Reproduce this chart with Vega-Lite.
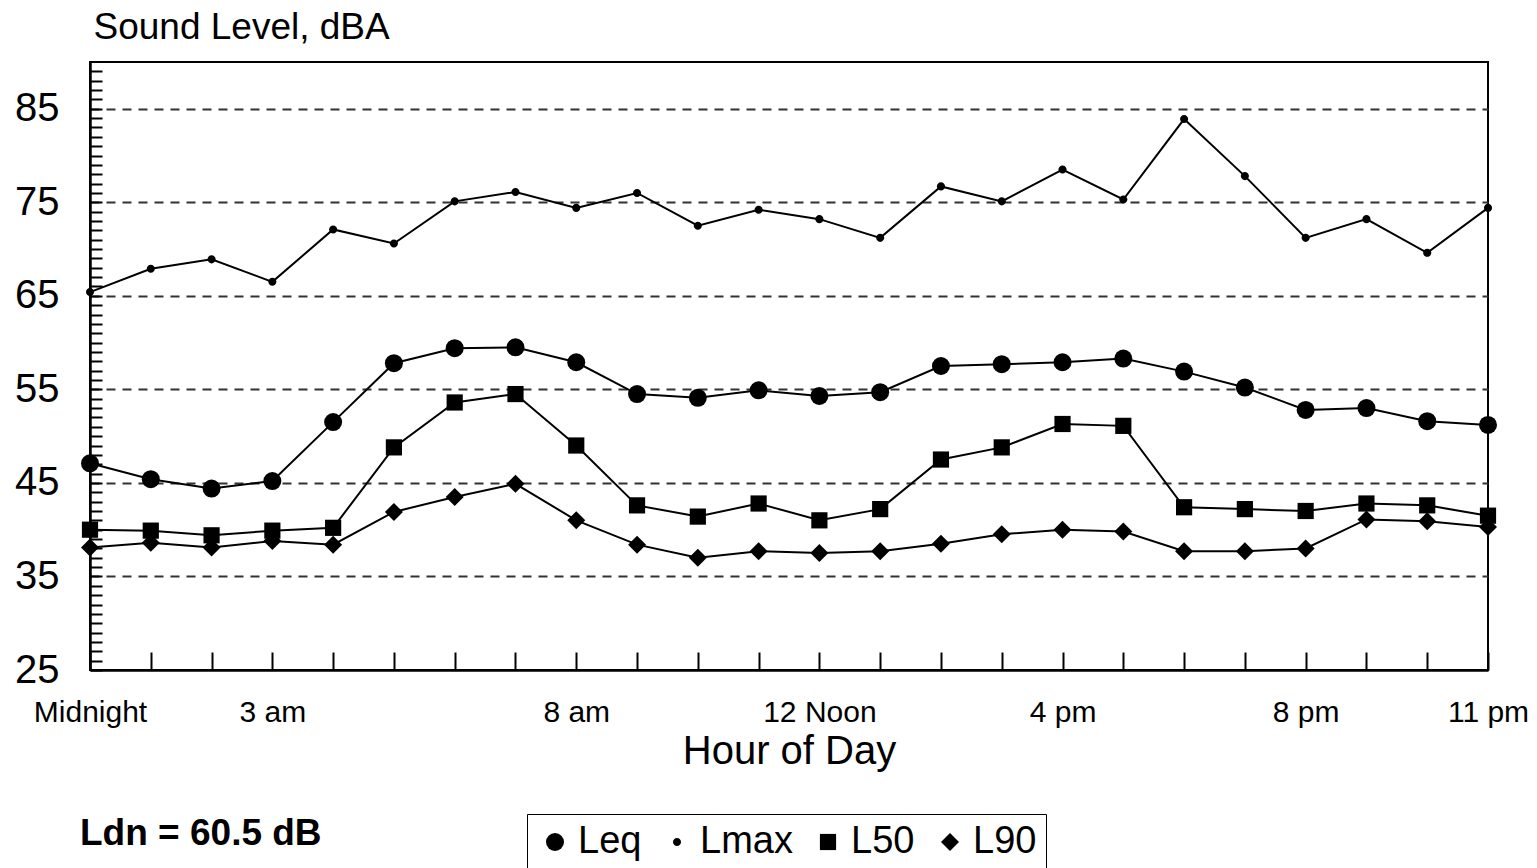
{
  "$schema": "https://vega.github.io/schema/vega-lite/v6.json",
  "width": 1398,
  "height": 608,
  "autosize": {"type": "none"},
  "padding": {"left": 90, "top": 62, "right": 49, "bottom": 198},
  "background": "white",
  "config": {
    "font": "Liberation Sans",
    "view": {"stroke": "black", "strokeWidth": 2}
  },
  "title": {
    "text": "Ldn = 60.5 dB",
    "orient": "bottom",
    "anchor": "start",
    "frame": "group",
    "fontSize": 37,
    "fontWeight": "bold",
    "color": "black",
    "dx": -10,
    "offset": -55
  },
  "datasets": {
    "levels": [
      {"hour": 0, "series": "Leq", "level": 47.1}, {"hour": 1, "series": "Leq", "level": 45.4}, {"hour": 2, "series": "Leq", "level": 44.4}, {"hour": 3, "series": "Leq", "level": 45.2},
      {"hour": 4, "series": "Leq", "level": 51.5}, {"hour": 5, "series": "Leq", "level": 57.8}, {"hour": 6, "series": "Leq", "level": 59.4}, {"hour": 7, "series": "Leq", "level": 59.5},
      {"hour": 8, "series": "Leq", "level": 57.9}, {"hour": 9, "series": "Leq", "level": 54.5}, {"hour": 10, "series": "Leq", "level": 54.1}, {"hour": 11, "series": "Leq", "level": 54.9},
      {"hour": 12, "series": "Leq", "level": 54.3}, {"hour": 13, "series": "Leq", "level": 54.7}, {"hour": 14, "series": "Leq", "level": 57.5}, {"hour": 15, "series": "Leq", "level": 57.7},
      {"hour": 16, "series": "Leq", "level": 57.9}, {"hour": 17, "series": "Leq", "level": 58.3}, {"hour": 18, "series": "Leq", "level": 56.9}, {"hour": 19, "series": "Leq", "level": 55.2},
      {"hour": 20, "series": "Leq", "level": 52.8}, {"hour": 21, "series": "Leq", "level": 53.0}, {"hour": 22, "series": "Leq", "level": 51.6}, {"hour": 23, "series": "Leq", "level": 51.2},
      {"hour": 0, "series": "Lmax", "level": 65.4}, {"hour": 1, "series": "Lmax", "level": 67.9}, {"hour": 2, "series": "Lmax", "level": 68.9}, {"hour": 3, "series": "Lmax", "level": 66.5},
      {"hour": 4, "series": "Lmax", "level": 72.1}, {"hour": 5, "series": "Lmax", "level": 70.6}, {"hour": 6, "series": "Lmax", "level": 75.1}, {"hour": 7, "series": "Lmax", "level": 76.1},
      {"hour": 8, "series": "Lmax", "level": 74.4}, {"hour": 9, "series": "Lmax", "level": 76.0}, {"hour": 10, "series": "Lmax", "level": 72.5}, {"hour": 11, "series": "Lmax", "level": 74.2},
      {"hour": 12, "series": "Lmax", "level": 73.2}, {"hour": 13, "series": "Lmax", "level": 71.2}, {"hour": 14, "series": "Lmax", "level": 76.7}, {"hour": 15, "series": "Lmax", "level": 75.1},
      {"hour": 16, "series": "Lmax", "level": 78.5}, {"hour": 17, "series": "Lmax", "level": 75.3}, {"hour": 18, "series": "Lmax", "level": 83.9}, {"hour": 19, "series": "Lmax", "level": 77.8},
      {"hour": 20, "series": "Lmax", "level": 71.2}, {"hour": 21, "series": "Lmax", "level": 73.2}, {"hour": 22, "series": "Lmax", "level": 69.6}, {"hour": 23, "series": "Lmax", "level": 74.4},
      {"hour": 0, "series": "L50", "level": 40.0}, {"hour": 1, "series": "L50", "level": 39.9}, {"hour": 2, "series": "L50", "level": 39.4}, {"hour": 3, "series": "L50", "level": 39.9},
      {"hour": 4, "series": "L50", "level": 40.2}, {"hour": 5, "series": "L50", "level": 48.8}, {"hour": 6, "series": "L50", "level": 53.6}, {"hour": 7, "series": "L50", "level": 54.5},
      {"hour": 8, "series": "L50", "level": 49.0}, {"hour": 9, "series": "L50", "level": 42.6}, {"hour": 10, "series": "L50", "level": 41.4}, {"hour": 11, "series": "L50", "level": 42.8},
      {"hour": 12, "series": "L50", "level": 41.0}, {"hour": 13, "series": "L50", "level": 42.2}, {"hour": 14, "series": "L50", "level": 47.5}, {"hour": 15, "series": "L50", "level": 48.8},
      {"hour": 16, "series": "L50", "level": 51.3}, {"hour": 17, "series": "L50", "level": 51.1}, {"hour": 18, "series": "L50", "level": 42.4}, {"hour": 19, "series": "L50", "level": 42.2},
      {"hour": 20, "series": "L50", "level": 42.0}, {"hour": 21, "series": "L50", "level": 42.8}, {"hour": 22, "series": "L50", "level": 42.6}, {"hour": 23, "series": "L50", "level": 41.5},
      {"hour": 0, "series": "L90", "level": 38.1}, {"hour": 1, "series": "L90", "level": 38.6}, {"hour": 2, "series": "L90", "level": 38.1}, {"hour": 3, "series": "L90", "level": 38.8},
      {"hour": 4, "series": "L90", "level": 38.4}, {"hour": 5, "series": "L90", "level": 41.9}, {"hour": 6, "series": "L90", "level": 43.5}, {"hour": 7, "series": "L90", "level": 44.9},
      {"hour": 8, "series": "L90", "level": 41.0}, {"hour": 9, "series": "L90", "level": 38.4}, {"hour": 10, "series": "L90", "level": 37.0}, {"hour": 11, "series": "L90", "level": 37.7},
      {"hour": 12, "series": "L90", "level": 37.5}, {"hour": 13, "series": "L90", "level": 37.7}, {"hour": 14, "series": "L90", "level": 38.5}, {"hour": 15, "series": "L90", "level": 39.5},
      {"hour": 16, "series": "L90", "level": 40.0}, {"hour": 17, "series": "L90", "level": 39.8}, {"hour": 18, "series": "L90", "level": 37.7}, {"hour": 19, "series": "L90", "level": 37.7},
      {"hour": 20, "series": "L90", "level": 38.0}, {"hour": 21, "series": "L90", "level": 41.1}, {"hour": 22, "series": "L90", "level": 40.9}, {"hour": 23, "series": "L90", "level": 40.3}
    ]
  },
  "data": {"name": "levels"},
  "encoding": {
    "x": {
      "field": "hour",
      "type": "quantitative",
      "scale": {"domain": [0, 23], "nice": false, "zero": false},
      "title": "Hour of Day",
      "axis": {
        "values": [0,1,2,3,4,5,6,7,8,9,10,11,12,13,14,15,16,17,18,19,20,21,22,23],
        "labelExpr": "datum.value==0?'Midnight':datum.value==3?'3 am':datum.value==8?'8 am':datum.value==12?'12 Noon':datum.value==16?'4 pm':datum.value==20?'8 pm':datum.value==23?'11 pm':''",
        "grid": false,
        "tickSize": -18,
        "tickWidth": 2,
        "tickColor": "black",
        "domainColor": "black",
        "domainWidth": 2.5,
        "labelFontSize": 30,
        "labelColor": "black",
        "labelPadding": 45,
        "labelOverlap": false,
        "labelFlush": false,
        "titleFontSize": 40,
        "titleFontWeight": "normal",
        "titleColor": "black",
        "titlePadding": 4
      }
    },
    "y": {
      "field": "level",
      "type": "quantitative",
      "scale": {"domain": [25, 90], "nice": false, "zero": false},
      "title": "Sound Level, dBA",
      "axis": {
        "values": [25,26,27,28,29,30,31,32,33,34,35,36,37,38,39,40,41,42,43,44,45,46,47,48,49,50,51,52,53,54,55,56,57,58,59,60,61,62,63,64,65,66,67,68,69,70,71,72,73,74,75,76,77,78,79,80,81,82,83,84,85,86,87,88,89],
        "labelExpr": "datum.value % 10 == 5 ? datum.value : ''",
        "grid": true,
        "gridColor": "#333333",
        "gridWidth": 2,
        "gridDash": [9, 7],
        "gridOpacity": {"condition": {"test": "datum.value % 10 == 5 && datum.value > 30", "value": 1}, "value": 0},
        "tickSize": -12,
        "tickWidth": 2,
        "tickColor": "black",
        "domainColor": "black",
        "domainWidth": 2.5,
        "labelFontSize": 40,
        "labelColor": "black",
        "labelPadding": 43,
        "labelOverlap": false,
        "labelFlush": false,
        "titleAngle": 0,
        "titleAlign": "left",
        "titleBaseline": "middle",
        "titleX": 3,
        "titleY": -35,
        "titleFontSize": 37,
        "titleFontWeight": "normal",
        "titleColor": "black"
      }
    }
  },
  "layer": [
    {
      "mark": {"type": "line", "color": "black", "strokeWidth": 2},
      "encoding": {"detail": {"field": "series"}}
    },
    {
      "mark": {"type": "point", "filled": true, "color": "black", "opacity": 1, "size": 324},
      "encoding": {
        "shape": {
          "field": "series",
          "type": "nominal",
          "scale": {
            "domain": ["Leq", "Lmax", "L50", "L90"],
            "range": [
              "circle",
              "M-0.45,0A0.45,0.45,0,1,1,0.45,0A0.45,0.45,0,1,1,-0.45,0Z",
              "M-0.9,-0.9H0.9V0.9H-0.9Z",
              "diamond"
            ]
          },
          "legend": {
            "title": null,
            "orient": "none",
            "legendX": 437,
            "legendY": 752,
            "direction": "horizontal",
            "columns": 4,
            "strokeColor": "black",
            "padding": 9,
            "labelFontSize": 38,
            "labelColor": "black",
            "labelOffset": 4,
            "columnPadding": 16,
            "symbolSize": 324,
            "symbolFillColor": "black",
            "symbolStrokeColor": "black",
            "symbolOpacity": 1
          }
        }
      }
    }
  ]
}
